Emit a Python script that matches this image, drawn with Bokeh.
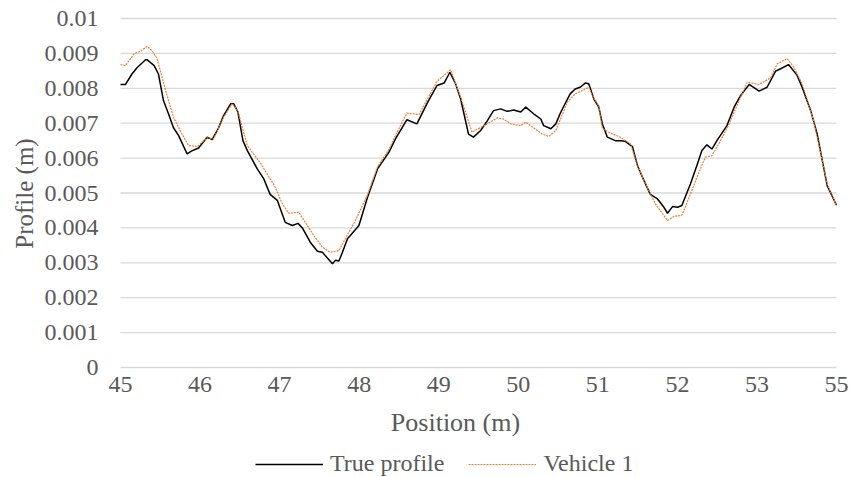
import math
from bokeh.plotting import figure
from bokeh.models import FixedTicker, Legend, LegendItem, Range1d, Label
from bokeh.embed import file_html
from bokeh.resources import INLINE

# True profile (position m, profile m)
true_pos = [45.00, 45.07, 45.16, 45.23, 45.35, 45.37, 45.47, 45.53, 45.60, 45.67, 45.74, 45.81,
            45.93, 45.99, 46.09, 46.21, 46.28, 46.37, 46.44, 46.54, 46.58, 46.64, 46.71, 46.77,
            46.91, 47.00, 47.09, 47.19, 47.30, 47.40, 47.48, 47.54, 47.65, 47.75, 47.82, 47.96,
            48.00, 48.05, 48.10, 48.17, 48.21, 48.33, 48.45, 48.59, 48.75, 48.84, 49.00, 49.14,
            49.28, 49.42, 49.52, 49.60, 49.68, 49.75, 49.86, 49.93, 50.03, 50.12, 50.21, 50.31,
            50.40, 50.49, 50.59, 50.66, 50.77, 50.87, 50.91, 51.01, 51.08, 51.15, 51.28, 51.35,
            51.42, 51.49, 51.54, 51.61, 51.68, 51.73, 51.80, 51.91, 51.98, 52.05, 52.15, 52.22,
            52.31, 52.40, 52.50, 52.59, 52.64, 52.71, 52.78, 52.84, 52.96, 53.05, 53.12, 53.19,
            53.26, 53.33, 53.47, 53.57, 53.66, 53.78, 53.92, 54.03, 54.15, 54.22, 54.33, 54.45,
            54.52, 54.64, 54.73, 54.87, 55.00]
true_val = [0.00811, 0.00811, 0.00841, 0.00859, 0.00882, 0.00882, 0.00865, 0.00841, 0.00765, 0.00727, 0.00687, 0.00665,
            0.00612, 0.00620, 0.00629, 0.00660, 0.00653, 0.00687, 0.00722, 0.00756, 0.00756, 0.00732, 0.00650, 0.00622,
            0.00569, 0.00541, 0.00496, 0.00479, 0.00416, 0.00407, 0.00413, 0.00400, 0.00359, 0.00333, 0.00330, 0.00297,
            0.00307, 0.00305, 0.00330, 0.00369, 0.00378, 0.00407, 0.00488, 0.00569, 0.00617, 0.00655, 0.00710, 0.00698,
            0.00756, 0.00808, 0.00815, 0.00846, 0.00813, 0.00770, 0.00669, 0.00660, 0.00679, 0.00706, 0.00736, 0.00741,
            0.00734, 0.00738, 0.00732, 0.00746, 0.00727, 0.00712, 0.00693, 0.00684, 0.00698, 0.00732, 0.00784, 0.00798,
            0.00803, 0.00815, 0.00813, 0.00770, 0.00746, 0.00698, 0.00660, 0.00650, 0.00650, 0.00648, 0.00633, 0.00579,
            0.00536, 0.00496, 0.00483, 0.00459, 0.00442, 0.00461, 0.00459, 0.00464, 0.00526, 0.00579, 0.00622, 0.00638,
            0.00626, 0.00650, 0.00693, 0.00746, 0.00779, 0.00811, 0.00792, 0.00803, 0.00849, 0.00856, 0.00868, 0.00837,
            0.00803, 0.00736, 0.00669, 0.00521, 0.00465]

# Vehicle 1
veh_pos = [45.00, 45.07, 45.19, 45.28, 45.37, 45.44, 45.51, 45.63, 45.74, 45.86, 45.95, 46.07,
           46.21, 46.30, 46.44, 46.56, 46.64, 46.77, 46.96, 47.16, 47.26, 47.35, 47.49, 47.70,
           47.82, 47.93, 48.05, 48.19, 48.28, 48.45, 48.59, 48.75, 48.84, 49.00, 49.17, 49.42,
           49.61, 49.75, 49.91, 50.12, 50.26, 50.35, 50.45, 50.59, 50.66, 50.77, 50.89, 50.98,
           51.08, 51.24, 51.35, 51.54, 51.61, 51.68, 51.73, 51.82, 51.98, 52.12, 52.22, 52.31,
           52.47, 52.64, 52.73, 52.84, 52.96, 53.08, 53.17, 53.26, 53.38, 53.50, 53.75, 53.92,
           54.08, 54.17, 54.31, 54.40, 54.52, 54.68, 54.87, 55.00]
veh_val = [0.00868, 0.00865, 0.00899, 0.00906, 0.00920, 0.00908, 0.00885, 0.00794, 0.00717, 0.00669, 0.00636, 0.00633,
           0.00658, 0.00655, 0.00717, 0.00756, 0.00735, 0.00636, 0.00584, 0.00517, 0.00469, 0.00442, 0.00445, 0.00378,
           0.00345, 0.00330, 0.00335, 0.00388, 0.00421, 0.00495, 0.00575, 0.00625, 0.00665, 0.00729, 0.00725, 0.00820,
           0.00853, 0.00775, 0.00674, 0.00698, 0.00715, 0.00712, 0.00698, 0.00693, 0.00703, 0.00687, 0.00669, 0.00662,
           0.00679, 0.00760, 0.00784, 0.00803, 0.00772, 0.00750, 0.00684, 0.00674, 0.00660, 0.00641, 0.00580, 0.00536,
           0.00469, 0.00421, 0.00433, 0.00436, 0.00497, 0.00560, 0.00603, 0.00607, 0.00650, 0.00698, 0.00817, 0.00811,
           0.00830, 0.00870, 0.00885, 0.00862, 0.00813, 0.00708, 0.00526, 0.00464]

# Axis ticks (Excel category axis: 10 evenly spaced labels)
x_min, x_max = 45, 55
x_tick_labels = ["45", "46", "47", "48", "49", "50", "51", "52", "53", "55"]
y_ticks = [0, 0.001, 0.002, 0.003, 0.004, 0.005, 0.006, 0.007, 0.008, 0.009, 0.01]
y_tick_labels = ["0", "0.001", "0.002", "0.003", "0.004", "0.005", "0.006", "0.007", "0.008", "0.009", "0.01"]

FONT = "Liberation Serif"
TXT = "#595959"

# Page layout (pixels): plot area from x 120..836, y 18..367 inside an 850x477 canvas
W, H = 850, 477
L, R, T, B = 120, 836, 18, 367
xpx = (x_max - x_min) / (R - L)
ypx = (y_ticks[-1] - y_ticks[0]) / (B - T)
x_range = Range1d(x_min - L * xpx, x_max + (W - R) * xpx)
y_range = Range1d(y_ticks[0] - (H - B) * ypx, y_ticks[-1] + T * ypx)

p = figure(frame_width=W, frame_height=H, output_backend="svg", toolbar_location=None,
           x_range=x_range, y_range=y_range,
           min_border_left=0, min_border_right=0, min_border_top=0, min_border_bottom=0)
p.outline_line_color = None
p.background_fill_color = "white"

x_ticks = [x_min + i * (x_max - x_min) / (len(x_tick_labels) - 1) for i in range(len(x_tick_labels))]
p.xaxis.ticker = FixedTicker(ticks=x_ticks)
p.xaxis.major_label_overrides = {t: l for t, l in zip(x_ticks, x_tick_labels)}
p.xaxis.fixed_location = y_ticks[0]
p.yaxis.ticker = FixedTicker(ticks=y_ticks)
p.yaxis.major_label_overrides = {t: l for t, l in zip(y_ticks, y_tick_labels)}
p.yaxis.fixed_location = x_min

for ax in (p.xaxis, p.yaxis):
    ax.axis_line_color = None
    ax.major_tick_line_color = None
    ax.minor_tick_line_color = None
    ax.major_tick_out = 0
    ax.major_tick_in = 0
    ax.major_label_text_font = FONT
    ax.major_label_text_font_size = "24px"
    ax.major_label_text_color = TXT

p.yaxis.major_label_standoff = 22
p.xaxis.major_label_standoff = 9

# horizontal gridlines limited to the plot area
p.xgrid.grid_line_color = None
p.ygrid.grid_line_color = None
p.segment(x0=[x_min] * len(y_ticks), x1=[x_max] * len(y_ticks), y0=y_ticks, y1=y_ticks,
          line_color="#d9d9d9", line_width=1.3)

ytitle = Label(x=x_min - (L - 24) * xpx, y=y_ticks[-1] - (193 - T) * ypx, text="Profile (m)",
               angle=math.pi / 2, text_align="center", text_baseline="middle",
               text_font=FONT, text_font_size="25px", text_color=TXT)
p.add_layout(ytitle)

xtitle = Label(x=x_min + (455 - L) * xpx, y=y_ticks[0] - (422 - B) * ypx, text="Position (m)",
               text_align="center", text_baseline="middle",
               text_font=FONT, text_font_size="26px", text_color=TXT)
p.add_layout(xtitle)

r_true = p.line(true_pos, true_val, line_color="black", line_width=1.5)
r_veh = p.line(veh_pos, veh_val, line_color="#ED7D31", line_width=1.2, line_dash="2 1")

legend = Legend(items=[LegendItem(label="True profile", renderers=[r_true]),
                       LegendItem(label="Vehicle 1", renderers=[r_veh])],
                orientation="horizontal", location=(255, 0),
                label_text_font=FONT, label_text_font_size="24px", label_text_color=TXT,
                glyph_width=68, label_standoff=7, spacing=24,
                border_line_color=None, background_fill_alpha=0,
                padding=0, margin=0)
p.add_layout(legend, "center")

open("out.html", "w").write(file_html(p, INLINE))
